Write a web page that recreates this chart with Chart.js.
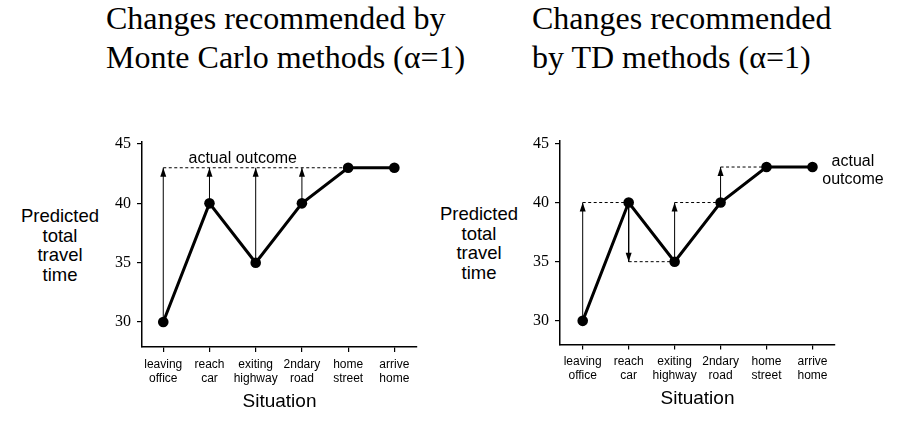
<!DOCTYPE html>
<html>
<head>
<meta charset="utf-8">
<script src="https://cdn.jsdelivr.net/npm/chart.js@4.4.1/dist/chart.umd.min.js"></script>
<style>
  body { margin: 0; background: #fff; width: 897px; height: 423px; position: relative; overflow: hidden; }
  .title { position: absolute; top: -1px; font-family: "Liberation Serif", serif; font-size: 32px; line-height: 39px; color: #000; white-space: nowrap; }
  .ylab { position: absolute; width: 100px; text-align: center; font-family: "Liberation Sans", Arial, sans-serif; font-size: 18.5px; line-height: 19.7px; color: #000; }
  canvas { position: absolute; top: 0; }
</style>
</head>
<body>
<div class="title" style="left:106px">Changes recommended by<br>Monte Carlo methods (α=1)</div>
<div class="title" style="left:532px">Changes recommended<br>by TD methods (α=1)</div>
<div class="ylab" style="left:10px; top:206px">Predicted<br>total<br>travel<br>time</div>
<div class="ylab" style="left:429px; top:204px">Predicted<br>total<br>travel<br>time</div>
<div style="position:absolute; left:0; top:0; width:448px; height:423px"><canvas id="mc"></canvas></div>
<div style="position:absolute; left:448px; top:0; width:449px; height:423px"><canvas id="td"></canvas></div>
<script>
const categories = ["leaving office", "reach car", "exiting highway", "2ndary road", "home street", "arrive home"];
const predicted = [30, 40, 35, 40, 43, 43];
const actualOutcome = 43;
const mcTargets = [43, 43, 43, 43, 43, 43];
const tdTargets = [40, 35, 40, 43, 43, 43];
const yTicks = [30, 35, 40, 45];

const sans = "'Liberation Sans', Arial, sans-serif";
const serif = "'Liberation Serif', 'Times New Roman', serif";

// arrowheads at the end of each arrow dataset
const arrowHeads = {
  id: "arrowHeads",
  afterDatasetsDraw(chart) {
    const ctx = chart.ctx;
    chart.data.datasets.forEach((ds, i) => {
      if (!ds.arrow) return;
      const pts = chart.getDatasetMeta(i).data;
      const a = pts[0], b = pts[1];
      const dir = b.y < a.y ? 1 : -1;
      ctx.save();
      ctx.fillStyle = "#000";
      ctx.beginPath();
      ctx.moveTo(b.x, b.y);
      ctx.lineTo(b.x - 3, b.y + dir * 9);
      ctx.lineTo(b.x + 3, b.y + dir * 9);
      ctx.closePath();
      ctx.fill();
      ctx.restore();
    });
  }
};

const outcomeText = {
  id: "outcomeText",
  afterDraw(chart) {
    const o = chart.options.plugins.outcomeText;
    if (!o || !o.lines) return;
    const ctx = chart.ctx;
    const x = chart.scales.x.getPixelForValue(o.x);
    const y = chart.scales.y.getPixelForValue(o.y);
    ctx.save();
    ctx.font = "16px " + sans;
    ctx.fillStyle = "#000";
    ctx.textAlign = "center";
    ctx.textBaseline = "alphabetic";
    o.lines.forEach((t, k) => ctx.fillText(t, x, y + k * o.lineHeight));
    ctx.restore();
  }
};

function makeChart(id, targets, dashedSegments, geo, label) {
  const datasets = [];
  datasets.push({
    data: predicted.map((v, i) => ({ x: i, y: v })),
    borderColor: "#000", borderWidth: 3,
    pointRadius: 5.3, pointBackgroundColor: "#000", pointBorderWidth: 0
  });
  targets.forEach((t, i) => {
    if (t === predicted[i]) return;
    datasets.push({
      arrow: true,
      data: [{ x: i, y: predicted[i] }, { x: i, y: t }],
      borderColor: "#000", borderWidth: 1, pointRadius: 0
    });
  });
  if (dashedSegments) {
    targets.forEach((t, i) => {
      if (i >= targets.length - 1) return;
      datasets.push({
        data: [{ x: i, y: t }, { x: i + 1, y: t }],
        borderColor: "#000", borderWidth: 1, borderDash: [3, 2.5], pointRadius: 0
      });
    });
  } else {
    datasets.push({
      data: targets.slice(0, 5).map((t, i) => ({ x: i, y: t })),
      borderColor: "#000", borderWidth: 1, borderDash: [3, 2.5], pointRadius: 0
    });
  }

  return new Chart(document.getElementById(id), {
    type: "line",
    data: { datasets },
    plugins: [arrowHeads, outcomeText],
    options: {
      responsive: true,
      maintainAspectRatio: false,
      animation: false,
      events: [],
      layout: { padding: geo.padding },
      plugins: {
        legend: { display: false },
        tooltip: { enabled: false },
        outcomeText: label
      },
      scales: {
        x: {
          type: "linear",
          min: geo.xmin, max: geo.xmax,
          afterFit: s => { s.height = 66; },
          afterBuildTicks: s => { s.ticks = categories.map((c, i) => ({ value: i })); },
          ticks: {
            autoSkip: false, maxRotation: 0, padding: 5.5, color: "#000",
            font: { family: sans, size: 12, lineHeight: 1.17 },
            callback: v => categories[v].split(" ")
          },
          grid: { drawOnChartArea: false, drawTicks: true, tickLength: 5, color: "#000", lineWidth: 1.2 },
          border: { display: true, color: "#000", width: 1.5 },
          title: {
            display: true, text: "Situation", color: "#000",
            font: { family: sans, size: 19 }, padding: 0
          }
        },
        y: {
          min: geo.ymin, max: geo.ymax,
          afterFit: s => { s.width = 40; },
          afterBuildTicks: s => { s.ticks = yTicks.map(v => ({ value: v })); },
          ticks: { padding: 6, color: "#000", font: { family: serif, size: 16 } },
          grid: { drawOnChartArea: false, drawTicks: true, tickLength: 5, color: "#000", lineWidth: 1.2 },
          border: { display: true, color: "#000", width: 1.5 }
        }
      }
    }
  });
}

makeChart("mc", mcTargets, false, {
  padding: { left: 102, top: 142, right: 31, bottom: 10 },
  xmin: -0.46, xmax: 5.49, ymin: 27.9, ymax: 45.17
}, { lines: ["actual outcome"], x: 1.72, y: 43.38, lineHeight: 18 });

makeChart("td", tdTargets, true, {
  padding: { left: 72, top: 141, right: 62, bottom: 12.5 },
  xmin: -0.494, xmax: 5.49, ymin: 28, ymax: 45.2
}, { lines: ["actual", "outcome"], x: 5.88, y: 43.09, lineHeight: 18 });
</script>
</body>
</html>
